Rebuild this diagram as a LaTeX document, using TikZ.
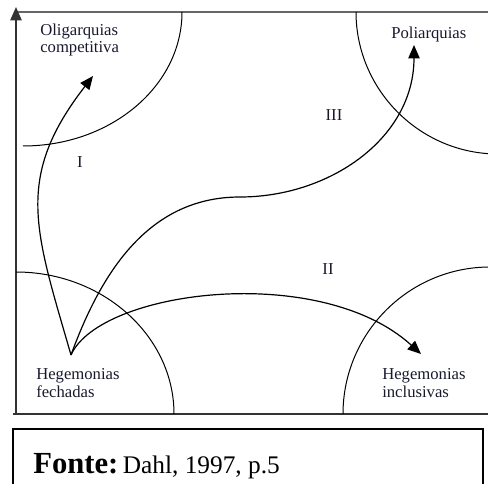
\documentclass[tikz,border=0pt]{standalone}
\usepackage{fontspec}
\setmainfont{Liberation Serif}
\usepackage{xcolor}
\usepackage{tikz}
\usetikzlibrary{positioning, arrows.meta}

\definecolor{lblcol}{rgb}{0.1,0.1,0.18}

\begin{document}
\begin{tikzpicture}[
  x=0.75pt, y=-0.75pt,
  axis/.style={line width=1.1pt, draw=black!80},
  topline/.style={line width=0.9pt, draw=black!60},
  border/.style={line width=0.75pt},
  flow/.style={-{Triangle[length=10pt, width=8.5pt]}, line width=0.9pt},
  lbl/.style={inner sep=0pt, align=left, text=lblcol, font=\fontsize{12.5}{13}\selectfont},
  zone/.style={inner sep=0pt, text=lblcol, font=\fontsize{12.5}{13}\selectfont}
]
  \useasboundingbox (0,0) rectangle (488,484);
  \clip (0,0) rectangle (488,484);

  \coordinate (orig) at (16,414);
  \coordinate (ytop) at (16,7);
  \coordinate (xend) at (502,414);
  \coordinate (xbeg) at (13,414);
  \coordinate (tl) at (16,12);
  \coordinate (tr) at (488,12);

  \draw[topline] (tl) -- (tr);
  \draw[axis, -{Triangle[length=10pt, width=8.5pt]}] (orig) -- (ytop);
  \draw[axis, -{Triangle[length=10pt, width=8.5pt]}] (xbeg) -- (xend);

  % regions
  \draw[border] (182,12) .. controls (182,86) and (111,146) .. (23,146);
  \draw[border] (356,12) .. controls (356,90) and (420,154) .. (498,154);
  \draw[border] (16,272) .. controls (103,272) and (174,336) .. (174,414);
  \draw[border] (343,414) .. controls (343,333) and (409,267) .. (490,267);

  \node[lbl, anchor=base west] (olig) at (40,53) {Oligarquias\\competitiva};
  \node[lbl, anchor=base west] (poli) at (391,39) {Poliarquias};
  \node[lbl, anchor=base west] (hfech) at (36,397) {Hegemonias\\fechadas};
  \node[lbl, anchor=base west] (hincl) at (382,397) {Hegemonias\\inclusivas};

  \node[zone, anchor=base] (zI) at (80,168) {I};
  \node[zone, anchor=base] (zII) at (328,274) {II};
  \node[zone, anchor=base] (zIII) at (334,121) {III};

  \coordinate (src) at (71,355);
  \coordinate (tipI) at (93,76);
  \coordinate (tipII) at (421,354);
  \coordinate (tipIII) at (414,45);

  \draw[flow] (src) .. controls (35,230) and (14,178) .. (tipI);
  \draw[flow] (src) .. controls (102,270) and (150,197) .. (240,197)
                    .. controls (330,197) and (414,138) .. (tipIII);
  \draw[flow] (src) .. controls (100,290) and (320,262) .. (tipII);

  \draw[line width=0.9pt] (13,429) rectangle (483,520);
  \node[inner sep=0pt, anchor=base west] (fonte) at (33,473)
    {{\fontsize{23}{26}\selectfont\bfseries Fonte:} {\fontsize{19}{22}\selectfont Dahl, 1997, p.5}};
\end{tikzpicture}
\end{document}
